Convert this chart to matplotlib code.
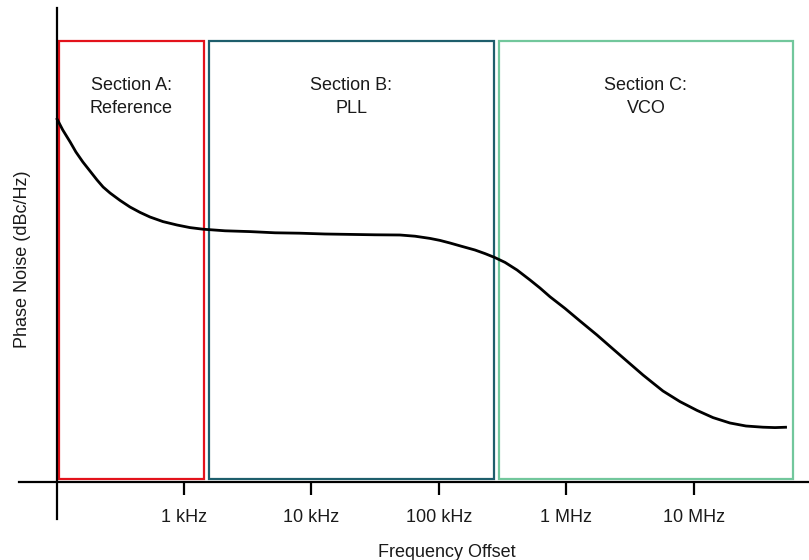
import numpy as np
import matplotlib.pyplot as plt
from matplotlib.patches import Rectangle

plt.rcParams['font.family'] = ['Liberation Sans', 'DejaVu Sans']

# Phase noise curve (Hz, dBc/Hz)
freq = [100, 112, 128, 142, 161, 183, 208, 232, 263, 315, 377, 452, 541, 684,
        881, 1114, 1409, 2099, 3296, 5176, 8128, 1.276e4, 2.004e4, 3.148e4,
        4.943e4, 6.486e4, 8.492e4, 1.018e5, 1.219e5, 1.514e5, 1.914e5,
        2.296e5, 2.748e5, 3.296e5, 4.093e5, 5.176e5, 6.194e5, 7.43e5,
        9.73e5, 1.276e6, 1.734e6, 2.316e6, 3.035e6, 3.981e6, 4.764e6,
        5.71e6, 7.76e6, 1.056e7, 1.41e7, 1.915e7, 2.557e7, 3.475e7,
        4.315e7, 5.358e7]
noise = [-79, -82, -85, -87.5, -90, -92.25, -94.5, -96.25, -97.75, -99.6,
         -101.25, -102.6, -103.75, -104.9, -105.75, -106.4, -106.8, -107.2,
         -107.4, -107.7, -107.8, -108, -108.1, -108.2, -108.25, -108.55,
         -109.1, -109.6, -110.25, -111.1, -112, -112.9, -113.9, -115.1,
         -117, -119.5, -121.5, -123.7, -126.6, -129.75, -133.25, -136.75,
         -140, -143.25, -145.25, -147.25, -149.9, -152.1, -153.9, -155.25,
         -156, -156.3, -156.4, -156.3]

# Sections (frequency ranges)
sec_names = ['Section A:\nReference', 'Section B:\nPLL', 'Section C:\nVCO']
sec_lo = [104, 1.57e3, 2.95e5]
sec_hi = [1.435e3, 2.7e5, 5.97e7]
sec_colors = ['#e3121b', '#1d5e6c', '#72c79c']
sec_top = -59.75
sec_bottom = -169.25

tick_pos = [1e3, 1e4, 1e5, 1e6, 1e7]
tick_labels = ['1 kHz', '10 kHz', '100 kHz', '1 MHz', '10 MHz']

fig = plt.figure(figsize=(8.09, 5.60), dpi=100)
ax = fig.add_axes([19 / 809, 41 / 560, 790 / 809, 511 / 560])

ax.set_xscale('log')
ax.set_xlim(50.8, 7.98e7)
ax.set_ylim(-179.25, -51.5)

# sections
for name, lo, hi, c in zip(sec_names, sec_lo, sec_hi, sec_colors):
    ax.add_patch(Rectangle((lo, sec_bottom), hi - lo, sec_top - sec_bottom,
                           fill=False, edgecolor=c, linewidth=1.6, zorder=2))
    xc = np.sqrt(lo * hi)
    ax.text(xc, -73.75, name, ha='center', va='center', fontsize=13,
            color='#1a1a1a', linespacing=1.4)

ax.plot(freq, noise, color='black', linewidth=2, zorder=3,
        solid_joinstyle='round', solid_capstyle='butt')

# axes crossing at 100 Hz / -170 dBc/Hz
for s in ['top', 'right']:
    ax.spines[s].set_visible(False)
ax.spines['left'].set_position(('data', 100))
ax.spines['bottom'].set_position(('data', -170))
for s in ['left', 'bottom']:
    ax.spines[s].set_linewidth(1.6)
    ax.spines[s].set_zorder(4)

ax.set_xticks(tick_pos)
ax.set_xticklabels(tick_labels, fontsize=13, color='#1a1a1a')
ax.xaxis.set_minor_locator(plt.NullLocator())
ax.tick_params(axis='x', direction='out', length=9.5, width=1.6, pad=10)
ax.set_yticks([])

ax.set_xlabel('Frequency Offset', fontsize=13, color='#1a1a1a')
ax.xaxis.set_label_coords((447 - 19) / 790, (519 - 544) / 511)
ax.set_ylabel('Phase Noise (dBc/Hz)', fontsize=13, color='#1a1a1a')
ax.yaxis.set_label_coords((31 - 19) / 790, (519 - 259) / 511)

fig.savefig('out.png', dpi=100)
